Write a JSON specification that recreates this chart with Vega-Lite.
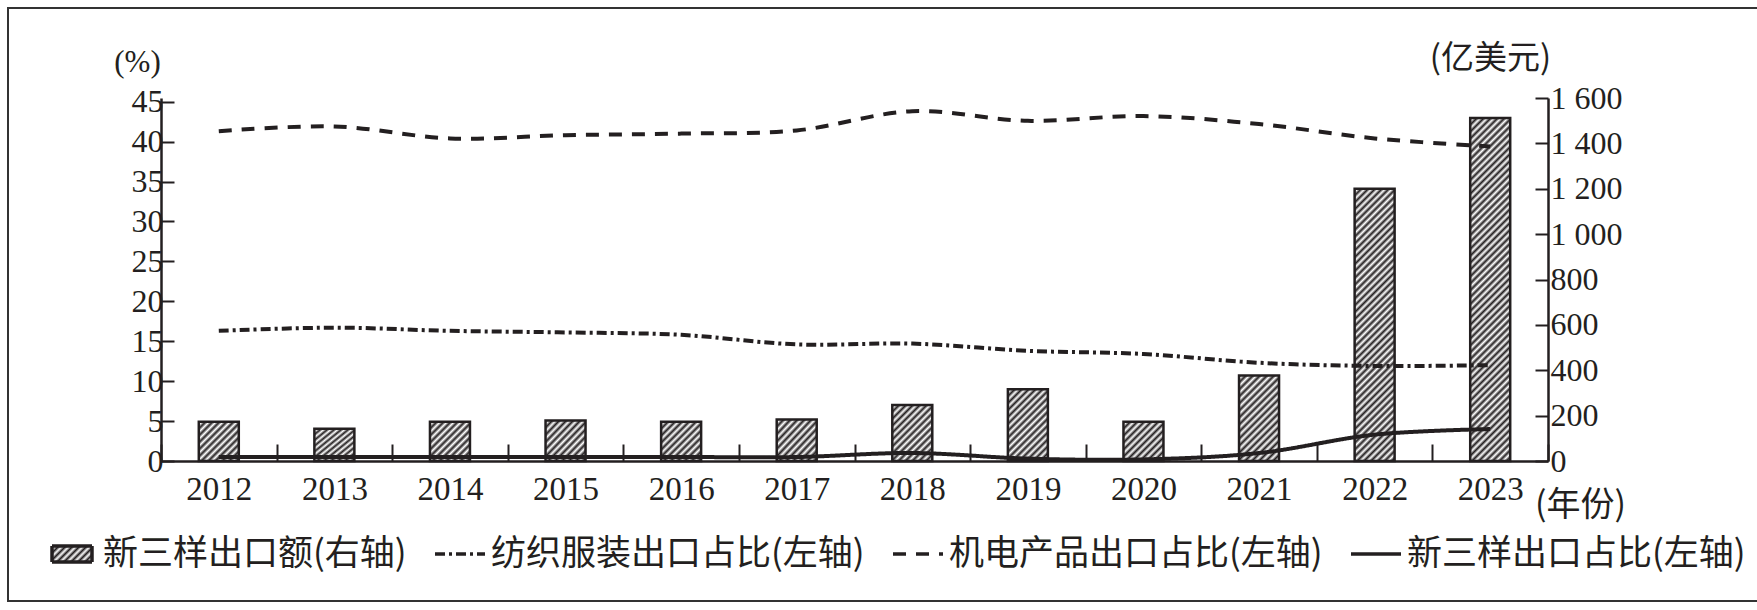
{
"$schema": "https://vega.github.io/schema/vega-lite/v6.json",
"width": 1387, "height": 363,
"autosize": {"type": "none"},
"padding": {"left": 161, "top": 98, "right": 209, "bottom": 149},
"background": "#ffffff",
"config": {"view": {"stroke": null}, "axis": {"grid": false, "domainColor": "#231f20", "domainWidth": 2.5, "tickColor": "#231f20", "tickWidth": 2, "labelColor": "#231f20", "titleColor": "#231f20", "titleFontWeight": "normal"}},
"datasets": {
"bars": [{"year":2012,"amount":173},{"year":2013,"amount":142},{"year":2014,"amount":173},{"year":2015,"amount":179},{"year":2016,"amount":173},{"year":2017,"amount":183},{"year":2018,"amount":247},{"year":2019,"amount":316},{"year":2020,"amount":173},{"year":2021,"amount":377},{"year":2022,"amount":1200},{"year":2023,"amount":1512}],
"lines": [
{"year":2012,"series":"纺织服装出口占比(左轴)","value":16.3},{"year":2013,"series":"纺织服装出口占比(左轴)","value":16.7},{"year":2014,"series":"纺织服装出口占比(左轴)","value":16.3},{"year":2015,"series":"纺织服装出口占比(左轴)","value":16.1},{"year":2016,"series":"纺织服装出口占比(左轴)","value":15.8},{"year":2017,"series":"纺织服装出口占比(左轴)","value":14.6},{"year":2018,"series":"纺织服装出口占比(左轴)","value":14.7},{"year":2019,"series":"纺织服装出口占比(左轴)","value":13.8},{"year":2020,"series":"纺织服装出口占比(左轴)","value":13.4},{"year":2021,"series":"纺织服装出口占比(左轴)","value":12.3},{"year":2022,"series":"纺织服装出口占比(左轴)","value":11.9},{"year":2023,"series":"纺织服装出口占比(左轴)","value":12.0},
{"year":2012,"series":"机电产品出口占比(左轴)","value":41.3},{"year":2013,"series":"机电产品出口占比(左轴)","value":41.9},{"year":2014,"series":"机电产品出口占比(左轴)","value":40.4},{"year":2015,"series":"机电产品出口占比(左轴)","value":40.8},{"year":2016,"series":"机电产品出口占比(左轴)","value":41.0},{"year":2017,"series":"机电产品出口占比(左轴)","value":41.4},{"year":2018,"series":"机电产品出口占比(左轴)","value":43.8},{"year":2019,"series":"机电产品出口占比(左轴)","value":42.6},{"year":2020,"series":"机电产品出口占比(左轴)","value":43.2},{"year":2021,"series":"机电产品出口占比(左轴)","value":42.2},{"year":2022,"series":"机电产品出口占比(左轴)","value":40.4},{"year":2023,"series":"机电产品出口占比(左轴)","value":39.4},
{"year":2012,"series":"新三样出口占比(左轴)","value":0.5},{"year":2013,"series":"新三样出口占比(左轴)","value":0.5},{"year":2014,"series":"新三样出口占比(左轴)","value":0.5},{"year":2015,"series":"新三样出口占比(左轴)","value":0.5},{"year":2016,"series":"新三样出口占比(左轴)","value":0.5},{"year":2017,"series":"新三样出口占比(左轴)","value":0.5},{"year":2018,"series":"新三样出口占比(左轴)","value":1.0},{"year":2019,"series":"新三样出口占比(左轴)","value":0.3},{"year":2020,"series":"新三样出口占比(左轴)","value":0.2},{"year":2021,"series":"新三样出口占比(左轴)","value":1.0},{"year":2022,"series":"新三样出口占比(左轴)","value":3.3},{"year":2023,"series":"新三样出口占比(左轴)","value":4.0}
]
},
"encoding": {
"x": {"field": "year", "type": "ordinal", "scale": {"type": "band", "paddingInner": 0, "paddingOuter": 0},
 "axis": {"orient": "bottom", "tickBand": "extent", "tickSize": -17, "labelAngle": 0, "labelFont": "Liberation Serif", "labelFontSize": 33, "labelPadding": 29,
  "title": "(年份)", "titleFont": "Noto Sans CJK SC", "titleFontSize": 34, "titleX": 1419, "titleY": 44, "titleBaseline": "middle", "titleAlign": "center"}}
},
"layer": [
{
"data": {"name": "bars"},
"mark": {"type": "bar", "width": {"band": 0.346}, "stroke": "#231f20", "strokeWidth": 2.5},
"encoding": {
 "y": {"field": "amount", "type": "quantitative", "scale": {"domain": [0, 1600], "nice": false},
  "axis": {"orient": "right", "values": [0,200,400,600,800,1000,1200,1400,1600], "labelExpr": "replace(format(datum.value, ','), ',', ' ')", "tickSize": -13, "labelFont": "Liberation Serif", "labelFontSize": 32, "labelPadding": 15,
   "title": "(亿美元)", "titleFont": "Noto Sans CJK SC", "titleFontSize": 33, "titleAngle": 0, "titleX": -58, "titleY": -40, "titleBaseline": "middle", "titleAlign": "center"}},
 "fill": {"condition": [
  {"test": "datum.year === 2018", "value": {"gradient": "linear", "x1": 0, "y1": 0, "x2": 0.8108, "y2": 1.1351, "stops": [{"offset":0,"color":"#231f20"},{"offset":0.036,"color":"#fff"},{"offset":0.072,"color":"#231f20"},{"offset":0.108,"color":"#fff"},{"offset":0.144,"color":"#231f20"},{"offset":0.18,"color":"#fff"},{"offset":0.216,"color":"#231f20"},{"offset":0.252,"color":"#fff"},{"offset":0.288,"color":"#231f20"},{"offset":0.324,"color":"#fff"},{"offset":0.36,"color":"#231f20"},{"offset":0.396,"color":"#fff"},{"offset":0.432,"color":"#231f20"},{"offset":0.468,"color":"#fff"},{"offset":0.504,"color":"#231f20"},{"offset":0.54,"color":"#fff"},{"offset":0.576,"color":"#231f20"},{"offset":0.612,"color":"#fff"},{"offset":0.648,"color":"#231f20"},{"offset":0.684,"color":"#fff"},{"offset":0.72,"color":"#231f20"},{"offset":0.756,"color":"#fff"},{"offset":0.792,"color":"#231f20"},{"offset":0.828,"color":"#fff"},{"offset":0.864,"color":"#231f20"},{"offset":0.9,"color":"#fff"},{"offset":0.936,"color":"#231f20"},{"offset":0.972,"color":"#fff"}]}},
  {"test": "datum.year === 2019", "value": {"gradient": "linear", "x1": 0, "y1": 0, "x2": 0.6628, "y2": 1.1881, "stops": [{"offset":0,"color":"#231f20"},{"offset":0.031,"color":"#fff"},{"offset":0.062,"color":"#231f20"},{"offset":0.093,"color":"#fff"},{"offset":0.124,"color":"#231f20"},{"offset":0.155,"color":"#fff"},{"offset":0.186,"color":"#231f20"},{"offset":0.217,"color":"#fff"},{"offset":0.248,"color":"#231f20"},{"offset":0.279,"color":"#fff"},{"offset":0.31,"color":"#231f20"},{"offset":0.341,"color":"#fff"},{"offset":0.372,"color":"#231f20"},{"offset":0.403,"color":"#fff"},{"offset":0.434,"color":"#231f20"},{"offset":0.465,"color":"#fff"},{"offset":0.496,"color":"#231f20"},{"offset":0.527,"color":"#fff"},{"offset":0.558,"color":"#231f20"},{"offset":0.589,"color":"#fff"},{"offset":0.62,"color":"#231f20"},{"offset":0.651,"color":"#fff"},{"offset":0.682,"color":"#231f20"},{"offset":0.713,"color":"#fff"},{"offset":0.744,"color":"#231f20"},{"offset":0.775,"color":"#fff"},{"offset":0.806,"color":"#231f20"},{"offset":0.837,"color":"#fff"},{"offset":0.868,"color":"#231f20"},{"offset":0.899,"color":"#fff"},{"offset":0.93,"color":"#231f20"},{"offset":0.961,"color":"#fff"},{"offset":0.992,"color":"#231f20"}]}},
  {"test": "datum.year === 2021", "value": {"gradient": "linear", "x1": 0, "y1": 0, "x2": 0.5634, "y2": 1.2043, "stops": [{"offset":0,"color":"#231f20"},{"offset":0.028,"color":"#fff"},{"offset":0.056,"color":"#231f20"},{"offset":0.084,"color":"#fff"},{"offset":0.112,"color":"#231f20"},{"offset":0.14,"color":"#fff"},{"offset":0.168,"color":"#231f20"},{"offset":0.196,"color":"#fff"},{"offset":0.224,"color":"#231f20"},{"offset":0.252,"color":"#fff"},{"offset":0.28,"color":"#231f20"},{"offset":0.308,"color":"#fff"},{"offset":0.336,"color":"#231f20"},{"offset":0.364,"color":"#fff"},{"offset":0.392,"color":"#231f20"},{"offset":0.42,"color":"#fff"},{"offset":0.448,"color":"#231f20"},{"offset":0.476,"color":"#fff"},{"offset":0.504,"color":"#231f20"},{"offset":0.532,"color":"#fff"},{"offset":0.56,"color":"#231f20"},{"offset":0.588,"color":"#fff"},{"offset":0.616,"color":"#231f20"},{"offset":0.644,"color":"#fff"},{"offset":0.672,"color":"#231f20"},{"offset":0.7,"color":"#fff"},{"offset":0.728,"color":"#231f20"},{"offset":0.756,"color":"#fff"},{"offset":0.784,"color":"#231f20"},{"offset":0.812,"color":"#fff"},{"offset":0.84,"color":"#231f20"},{"offset":0.868,"color":"#fff"},{"offset":0.896,"color":"#231f20"},{"offset":0.924,"color":"#fff"},{"offset":0.952,"color":"#231f20"},{"offset":0.98,"color":"#fff"}]}},
  {"test": "datum.year === 2022", "value": {"gradient": "linear", "x1": 0, "y1": 0, "x2": 0.16492, "y2": 1.12267, "stops": [{"offset":0,"color":"#231f20"},{"offset":0.011,"color":"#fff"},{"offset":0.022,"color":"#231f20"},{"offset":0.033,"color":"#fff"},{"offset":0.044,"color":"#231f20"},{"offset":0.055,"color":"#fff"},{"offset":0.066,"color":"#231f20"},{"offset":0.077,"color":"#fff"},{"offset":0.088,"color":"#231f20"},{"offset":0.099,"color":"#fff"},{"offset":0.11,"color":"#231f20"},{"offset":0.121,"color":"#fff"},{"offset":0.132,"color":"#231f20"},{"offset":0.143,"color":"#fff"},{"offset":0.154,"color":"#231f20"},{"offset":0.165,"color":"#fff"},{"offset":0.176,"color":"#231f20"},{"offset":0.187,"color":"#fff"},{"offset":0.198,"color":"#231f20"},{"offset":0.209,"color":"#fff"},{"offset":0.22,"color":"#231f20"},{"offset":0.231,"color":"#fff"},{"offset":0.242,"color":"#231f20"},{"offset":0.253,"color":"#fff"},{"offset":0.264,"color":"#231f20"},{"offset":0.275,"color":"#fff"},{"offset":0.286,"color":"#231f20"},{"offset":0.297,"color":"#fff"},{"offset":0.308,"color":"#231f20"},{"offset":0.319,"color":"#fff"},{"offset":0.33,"color":"#231f20"},{"offset":0.341,"color":"#fff"},{"offset":0.352,"color":"#231f20"},{"offset":0.363,"color":"#fff"},{"offset":0.374,"color":"#231f20"},{"offset":0.385,"color":"#fff"},{"offset":0.396,"color":"#231f20"},{"offset":0.407,"color":"#fff"},{"offset":0.418,"color":"#231f20"},{"offset":0.429,"color":"#fff"},{"offset":0.44,"color":"#231f20"},{"offset":0.451,"color":"#fff"},{"offset":0.462,"color":"#231f20"},{"offset":0.473,"color":"#fff"},{"offset":0.484,"color":"#231f20"},{"offset":0.495,"color":"#fff"},{"offset":0.506,"color":"#231f20"},{"offset":0.517,"color":"#fff"},{"offset":0.528,"color":"#231f20"},{"offset":0.539,"color":"#fff"},{"offset":0.55,"color":"#231f20"},{"offset":0.561,"color":"#fff"},{"offset":0.572,"color":"#231f20"},{"offset":0.583,"color":"#fff"},{"offset":0.594,"color":"#231f20"},{"offset":0.605,"color":"#fff"},{"offset":0.616,"color":"#231f20"},{"offset":0.627,"color":"#fff"},{"offset":0.638,"color":"#231f20"},{"offset":0.649,"color":"#fff"},{"offset":0.66,"color":"#231f20"},{"offset":0.671,"color":"#fff"},{"offset":0.682,"color":"#231f20"},{"offset":0.693,"color":"#fff"},{"offset":0.704,"color":"#231f20"},{"offset":0.715,"color":"#fff"},{"offset":0.726,"color":"#231f20"},{"offset":0.737,"color":"#fff"},{"offset":0.748,"color":"#231f20"},{"offset":0.759,"color":"#fff"},{"offset":0.77,"color":"#231f20"},{"offset":0.781,"color":"#fff"},{"offset":0.792,"color":"#231f20"},{"offset":0.803,"color":"#fff"},{"offset":0.814,"color":"#231f20"},{"offset":0.825,"color":"#fff"},{"offset":0.836,"color":"#231f20"},{"offset":0.847,"color":"#fff"},{"offset":0.858,"color":"#231f20"},{"offset":0.869,"color":"#fff"},{"offset":0.88,"color":"#231f20"},{"offset":0.891,"color":"#fff"},{"offset":0.902,"color":"#231f20"},{"offset":0.913,"color":"#fff"},{"offset":0.924,"color":"#231f20"},{"offset":0.935,"color":"#fff"},{"offset":0.946,"color":"#231f20"},{"offset":0.957,"color":"#fff"},{"offset":0.968,"color":"#231f20"},{"offset":0.979,"color":"#fff"},{"offset":0.99,"color":"#231f20"}]}},
  {"test": "datum.year === 2023", "value": {"gradient": "linear", "x1": 0, "y1": 0, "x2": 0.12847, "y2": 1.10164, "stops": [{"offset":0,"color":"#231f20"},{"offset":0.009,"color":"#fff"},{"offset":0.018,"color":"#231f20"},{"offset":0.027,"color":"#fff"},{"offset":0.036,"color":"#231f20"},{"offset":0.045,"color":"#fff"},{"offset":0.054,"color":"#231f20"},{"offset":0.063,"color":"#fff"},{"offset":0.072,"color":"#231f20"},{"offset":0.081,"color":"#fff"},{"offset":0.09,"color":"#231f20"},{"offset":0.099,"color":"#fff"},{"offset":0.108,"color":"#231f20"},{"offset":0.117,"color":"#fff"},{"offset":0.126,"color":"#231f20"},{"offset":0.135,"color":"#fff"},{"offset":0.144,"color":"#231f20"},{"offset":0.153,"color":"#fff"},{"offset":0.162,"color":"#231f20"},{"offset":0.171,"color":"#fff"},{"offset":0.18,"color":"#231f20"},{"offset":0.189,"color":"#fff"},{"offset":0.198,"color":"#231f20"},{"offset":0.207,"color":"#fff"},{"offset":0.216,"color":"#231f20"},{"offset":0.225,"color":"#fff"},{"offset":0.234,"color":"#231f20"},{"offset":0.243,"color":"#fff"},{"offset":0.252,"color":"#231f20"},{"offset":0.261,"color":"#fff"},{"offset":0.27,"color":"#231f20"},{"offset":0.279,"color":"#fff"},{"offset":0.288,"color":"#231f20"},{"offset":0.297,"color":"#fff"},{"offset":0.306,"color":"#231f20"},{"offset":0.315,"color":"#fff"},{"offset":0.324,"color":"#231f20"},{"offset":0.333,"color":"#fff"},{"offset":0.342,"color":"#231f20"},{"offset":0.351,"color":"#fff"},{"offset":0.36,"color":"#231f20"},{"offset":0.369,"color":"#fff"},{"offset":0.378,"color":"#231f20"},{"offset":0.387,"color":"#fff"},{"offset":0.396,"color":"#231f20"},{"offset":0.405,"color":"#fff"},{"offset":0.414,"color":"#231f20"},{"offset":0.423,"color":"#fff"},{"offset":0.432,"color":"#231f20"},{"offset":0.441,"color":"#fff"},{"offset":0.45,"color":"#231f20"},{"offset":0.459,"color":"#fff"},{"offset":0.468,"color":"#231f20"},{"offset":0.477,"color":"#fff"},{"offset":0.486,"color":"#231f20"},{"offset":0.495,"color":"#fff"},{"offset":0.504,"color":"#231f20"},{"offset":0.513,"color":"#fff"},{"offset":0.522,"color":"#231f20"},{"offset":0.531,"color":"#fff"},{"offset":0.54,"color":"#231f20"},{"offset":0.549,"color":"#fff"},{"offset":0.558,"color":"#231f20"},{"offset":0.567,"color":"#fff"},{"offset":0.576,"color":"#231f20"},{"offset":0.585,"color":"#fff"},{"offset":0.594,"color":"#231f20"},{"offset":0.603,"color":"#fff"},{"offset":0.612,"color":"#231f20"},{"offset":0.621,"color":"#fff"},{"offset":0.63,"color":"#231f20"},{"offset":0.639,"color":"#fff"},{"offset":0.648,"color":"#231f20"},{"offset":0.657,"color":"#fff"},{"offset":0.666,"color":"#231f20"},{"offset":0.675,"color":"#fff"},{"offset":0.684,"color":"#231f20"},{"offset":0.693,"color":"#fff"},{"offset":0.702,"color":"#231f20"},{"offset":0.711,"color":"#fff"},{"offset":0.72,"color":"#231f20"},{"offset":0.729,"color":"#fff"},{"offset":0.738,"color":"#231f20"},{"offset":0.747,"color":"#fff"},{"offset":0.756,"color":"#231f20"},{"offset":0.765,"color":"#fff"},{"offset":0.774,"color":"#231f20"},{"offset":0.783,"color":"#fff"},{"offset":0.792,"color":"#231f20"},{"offset":0.801,"color":"#fff"},{"offset":0.81,"color":"#231f20"},{"offset":0.819,"color":"#fff"},{"offset":0.828,"color":"#231f20"},{"offset":0.837,"color":"#fff"},{"offset":0.846,"color":"#231f20"},{"offset":0.855,"color":"#fff"},{"offset":0.864,"color":"#231f20"},{"offset":0.873,"color":"#fff"},{"offset":0.882,"color":"#231f20"},{"offset":0.891,"color":"#fff"},{"offset":0.9,"color":"#231f20"},{"offset":0.909,"color":"#fff"},{"offset":0.918,"color":"#231f20"},{"offset":0.927,"color":"#fff"},{"offset":0.936,"color":"#231f20"},{"offset":0.945,"color":"#fff"},{"offset":0.954,"color":"#231f20"},{"offset":0.963,"color":"#fff"},{"offset":0.972,"color":"#231f20"},{"offset":0.981,"color":"#fff"},{"offset":0.99,"color":"#231f20"},{"offset":0.999,"color":"#fff"}]}}
 ],
 "value": {"gradient": "linear", "x1": 0, "y1": 0, "x2": 1.0094, "y2": 0.9904, "stops": [{"offset":0,"color":"#231f20"},{"offset":0.044,"color":"#fff"},{"offset":0.088,"color":"#231f20"},{"offset":0.132,"color":"#fff"},{"offset":0.176,"color":"#231f20"},{"offset":0.22,"color":"#fff"},{"offset":0.264,"color":"#231f20"},{"offset":0.308,"color":"#fff"},{"offset":0.352,"color":"#231f20"},{"offset":0.396,"color":"#fff"},{"offset":0.44,"color":"#231f20"},{"offset":0.484,"color":"#fff"},{"offset":0.528,"color":"#231f20"},{"offset":0.572,"color":"#fff"},{"offset":0.616,"color":"#231f20"},{"offset":0.66,"color":"#fff"},{"offset":0.704,"color":"#231f20"},{"offset":0.748,"color":"#fff"},{"offset":0.792,"color":"#231f20"},{"offset":0.836,"color":"#fff"},{"offset":0.88,"color":"#231f20"},{"offset":0.924,"color":"#fff"},{"offset":0.968,"color":"#231f20"}]}}
}
},
{
"data": {"name": "lines"},
"mark": {"type": "line", "interpolate": "catmull-rom", "strokeWidth": 4, "color": "#231f20", "strokeCap": "butt"},
"encoding": {
 "y": {"field": "value", "type": "quantitative", "scale": {"domain": [0, 45.46], "nice": false},
  "axis": {"orient": "left", "values": [0,5,10,15,20,25,30,35,40,45], "tickSize": -13, "labelFont": "Liberation Serif", "labelFontSize": 32, "labelPadding": 11,
   "title": "(%)", "titleFont": "Liberation Serif", "titleFontSize": 31, "titleAngle": 0, "titleX": -24, "titleY": -36, "titleBaseline": "middle", "titleAlign": "center"}},
 "strokeDash": {"field": "series", "type": "nominal",
  "scale": {"domain": ["新三样出口额(右轴)", "纺织服装出口占比(左轴)", "机电产品出口占比(左轴)", "新三样出口占比(左轴)"], "range": [[1,0],[10,4,3,4],[13,10],[1,0]]},
  "legend": {"orient": "none", "legendX": -153, "legendY": -90, "direction": "horizontal", "columns": 4, "columnPadding": 18,
   "title": " ", "titleFontSize": 2, "titlePadding": 488, "padding": 29, "strokeColor": "#333333",
   "symbolSize": 2500, "symbolOffset": 8, "labelOffset": 4, "symbolType": "stroke", "symbolStrokeWidth": 3.5, "symbolStrokeColor": "#231f20",
   "labelFont": "Noto Sans CJK SC", "labelFontSize": 35, "labelColor": "#231f20", "labelLimit": 0,
   "encode": {
    "legend": {"update": {"strokeWidth": {"value": 2}}},
    "symbols": {"update": {
     "shape": [{"test": "datum.value === '新三样出口额(右轴)'", "value": "M-0.8,-0.32H0.8V0.32H-0.8Z"}, {"value": "stroke"}],
     "size": {"value": 2500},
     "stroke": {"value": "#231f20"},
     "strokeWidth": {"value": 3.5},
     "fill": [{"test": "datum.value === '新三样出口额(右轴)'", "value": {"gradient": "linear", "x1": 0, "y1": 0, "x2": 1.2069, "y2": 0.4828, "stops": [{"offset":0,"color":"#231f20"},{"offset":0.0625,"color":"#fff"},{"offset":0.125,"color":"#231f20"},{"offset":0.1875,"color":"#fff"},{"offset":0.25,"color":"#231f20"},{"offset":0.3125,"color":"#fff"},{"offset":0.375,"color":"#231f20"},{"offset":0.4375,"color":"#fff"},{"offset":0.5,"color":"#231f20"},{"offset":0.5625,"color":"#fff"},{"offset":0.625,"color":"#231f20"},{"offset":0.6875,"color":"#fff"},{"offset":0.75,"color":"#231f20"},{"offset":0.8125,"color":"#fff"},{"offset":0.875,"color":"#231f20"},{"offset":0.9375,"color":"#fff"},{"offset":1,"color":"#231f20"}]}}, {"value": "transparent"}],
     "opacity": {"value": 1}
    }}
   }
  }
 }
}
}
],
"resolve": {"scale": {"y": "independent"}, "axis": {"y": "independent"}}
}
